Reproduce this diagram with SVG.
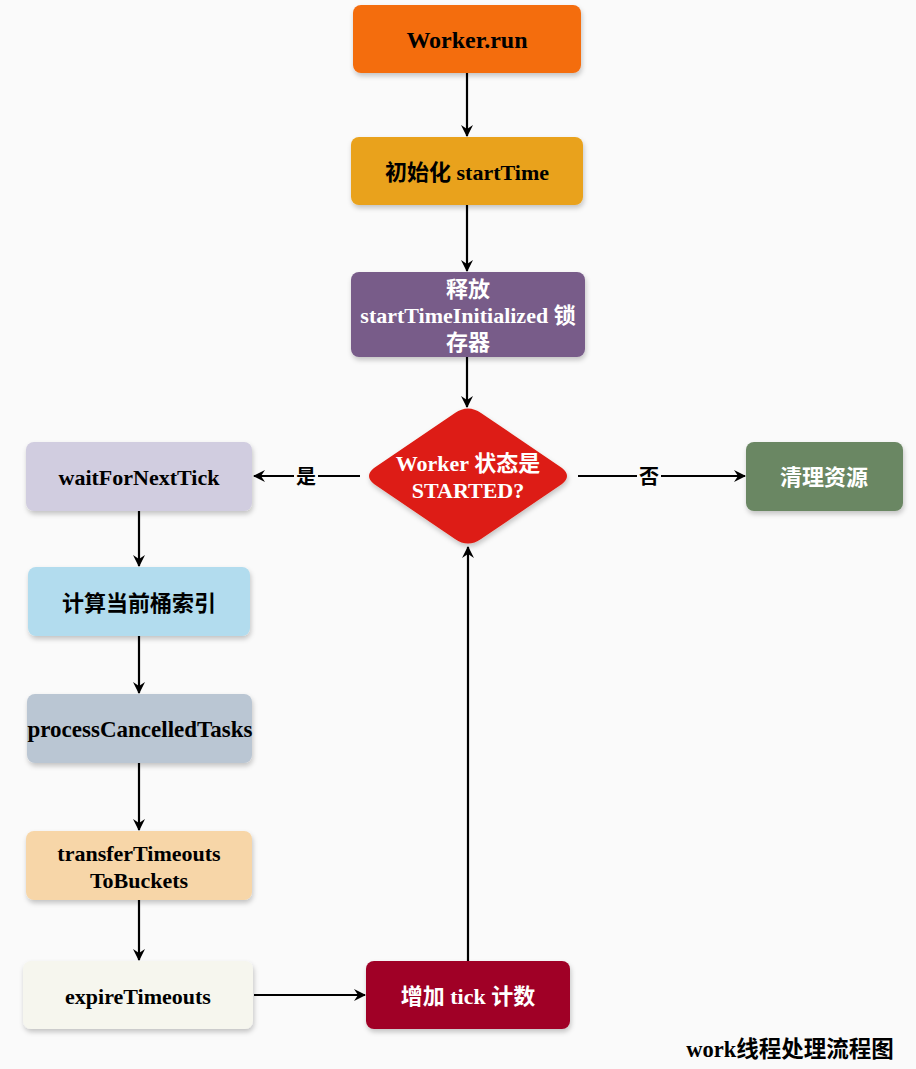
<svg xmlns="http://www.w3.org/2000/svg" width="916" height="1069" viewBox="0 0 916 1069">
<defs>
<marker id="ah" viewBox="0 0 12 12" refX="11" refY="6" markerWidth="12" markerHeight="12" markerUnits="userSpaceOnUse" orient="auto">
<path d="M0,0 L12,6 L0,12 L4,6 Z" fill="#000"/>
</marker>
<filter id="sh" x="-10%" y="-10%" width="125%" height="135%">
<feDropShadow dx="1" dy="3" stdDeviation="2.5" flood-color="#000" flood-opacity="0.22"/>
</filter>
</defs>
<style>
.t{font-family:"Liberation Serif","Noto Sans CJK SC",serif;font-weight:bold;font-size:22px;text-anchor:middle;dominant-baseline:central}
.w{fill:#fff}
.k{fill:#000}
.e{stroke:#000;stroke-width:2.2;fill:none;marker-end:url(#ah)}
.lb{font-family:"Liberation Serif","Noto Sans CJK SC",serif;font-weight:bold;font-size:20px;text-anchor:middle;dominant-baseline:central;fill:#000}
</style>
<rect width="916" height="1069" fill="#fafafa"/>
<g id="connectors">
<path class="e" d="M467,73 V136"/>
<path class="e" d="M467,205 V271"/>
<path class="e" d="M467,357 V407"/>
<path class="e" d="M360,476 H254"/>
<rect x="294" y="464" width="24" height="24" fill="#fafafa"/>
<text class="lb" x="306" y="477">是</text>
<path class="e" d="M578,476 H745"/>
<rect x="637" y="464" width="24" height="24" fill="#fafafa"/>
<text class="lb" x="649" y="477">否</text>
<path class="e" d="M139,511 V566"/>
<path class="e" d="M139,636 V693"/>
<path class="e" d="M139,763 V830"/>
<path class="e" d="M139,900 V960"/>
<path class="e" d="M254,995 H365"/>
<path class="e" d="M468,961 V547"/>
</g>
<g id="worker-run"><rect x="353" y="5" width="228" height="68" rx="8" fill="#f46d11" filter="url(#sh)"/><text class="t k" x="467" y="40" style="font-size:24px">Worker.run</text></g>
<g id="init-starttime"><rect x="351" y="137" width="232" height="68" rx="8" fill="#e9a21c" filter="url(#sh)"/><text class="t k" x="467" y="172">初始化 startTime</text></g>
<g id="release-latch"><rect x="351" y="272" width="234" height="85" rx="8" fill="#785c89" filter="url(#sh)"/><text class="t w" x="468" y="289">释放</text><text class="t w" x="468" y="315">startTimeInitialized 锁</text><text class="t w" x="468" y="342">存器</text></g>
<g id="check-started"><path d="M455,413 Q468,404 481,413 L562,468 Q572,476 562,484 L481,539 Q468,548 455,539 L374,484 Q364,476 374,468 Z" fill="#dd1c12" filter="url(#sh)"/><text class="t w" x="468" y="463">Worker 状态是</text><text class="t w" x="468" y="490">STARTED?</text></g>
<g id="cleanup"><rect x="746" y="442" width="157" height="69" rx="8" fill="#6b8763" filter="url(#sh)"/><text class="t w" x="824" y="477">清理资源</text></g>
<g id="wait-next-tick"><rect x="26" y="442" width="226" height="69" rx="8" fill="#d1cde0" filter="url(#sh)"/><text class="t k" x="139" y="477">waitForNextTick</text></g>
<g id="calc-bucket"><rect x="28" y="567" width="222" height="69" rx="8" fill="#b2dcee" filter="url(#sh)"/><text class="t k" x="139" y="603">计算当前桶索引</text></g>
<g id="process-cancelled"><rect x="27" y="694" width="225" height="69" rx="8" fill="#bac6d3" filter="url(#sh)"/><text class="t k" x="140" y="729" style="font-size:23px">processCancelledTasks</text></g>
<g id="transfer-timeouts"><rect x="26" y="831" width="226" height="69" rx="8" fill="#f7d6a8" filter="url(#sh)"/><text class="t k" x="139" y="853">transferTimeouts</text><text class="t k" x="139" y="880">ToBuckets</text></g>
<g id="expire-timeouts"><rect x="23" y="961" width="230" height="68" rx="8" fill="#f6f6ee" filter="url(#sh)"/><text class="t k" x="138" y="996">expireTimeouts</text></g>
<g id="increment-tick"><rect x="366" y="961" width="204" height="68" rx="8" fill="#a00026" filter="url(#sh)"/><text class="t w" x="468" y="996">增加 tick 计数</text></g>
<text class="t k" x="790" y="1049" style="font-size:22.5px">work线程处理流程图</text>
</svg>
